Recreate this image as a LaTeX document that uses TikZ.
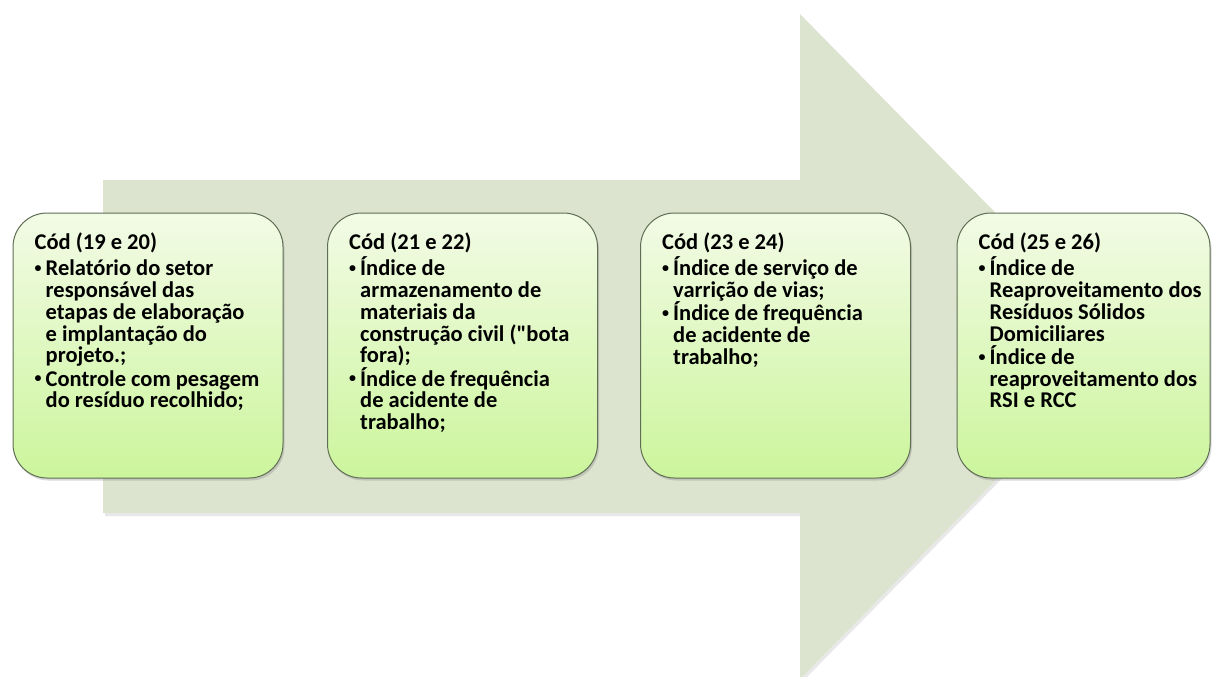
\documentclass[tikz,border=0pt]{standalone}
\usepackage{fontspec}
\setmainfont{Carlito}
\usetikzlibrary{shadows}

\definecolor{arrowfill}{HTML}{DCE4CF}
\definecolor{boxtop}{HTML}{F2FBE6}
\definecolor{boxbot}{HTML}{CCF59C}
\definecolor{boxline}{HTML}{5F6E55}

% bullet and continuation indent for the list lines
\newcommand{\bitem}{\makebox[11pt][l]{\raisebox{0.28ex}{\scalebox{0.62}{•}}}}
\newcommand{\bcont}{\hspace*{11pt}}
% keep an even line pitch regardless of accents and descenders
\newcommand{\evenlines}{\lineskiplimit=-100pt\lineskip=0pt}

\tikzset{
  stage/.style={draw=boxline, line width=1pt, rounded corners=34pt,
    top color=boxtop, bottom color=boxbot,
    minimum width=270pt, minimum height=265pt, inner sep=0pt,
    drop shadow={opacity=0.3, shadow xshift=1.5pt, shadow yshift=-2.5pt}},
  stagetext/.style={anchor=north west, inner sep=0pt, align=left,
    font=\fontsize{22.5}{21.8}\selectfont\bfseries\evenlines, text=black},
  bigarrow/.style={fill=arrowfill,
    drop shadow={opacity=0.18, shadow xshift=2pt, shadow yshift=-3pt}}
}

\begin{document}
\begin{tikzpicture}[x=1pt,y=1pt]
\useasboundingbox (0,0) rectangle (1216,-677);

% background arrow
\fill[bigarrow] (103,-180) -- (800,-180) -- (800,-14) -- (1127,-346.5)
  -- (800,-679) -- (800,-513) -- (103,-513) -- cycle;

% stage boxes
\node[stage] (b1) at (148,-345.5) {};
\node[stage] (b2) at (462.5,-345.5) {};
\node[stage] (b3) at (775.5,-345.5) {};
\node[stage, minimum width=253pt] (b4) at (1083.5,-345.5) {};

% stage texts
\node[stagetext] (t1) at ([shift={(22pt,-20pt)}]b1.north west) {%
Cód (19 e 20)\\[4.4pt]
\bitem Relatório do setor\\
\bcont responsável das\\
\bcont etapas de elaboração\\
\bcont e implantação do\\
\bcont projeto.;\\[1.4pt]
\bitem Controle com pesagem\\
\bcont do resíduo recolhido;};

\node[stagetext] (t2) at ([shift={(22pt,-20pt)}]b2.north west) {%
Cód (21 e 22)\\[4.4pt]
\bitem Índice de\\
\bcont armazenamento de\\
\bcont materiais da\\
\bcont construção civil (\textquotedbl bota\\
\bcont fora);\\[1.4pt]
\bitem Índice de frequência\\
\bcont de acidente de\\
\bcont trabalho;};

\node[stagetext] (t3) at ([shift={(22pt,-20pt)}]b3.north west) {%
Cód (23 e 24)\\[4.4pt]
\bitem Índice de serviço de\\
\bcont varrição de vias;\\[1.4pt]
\bitem Índice de frequência\\
\bcont de acidente de\\
\bcont trabalho;};

\node[stagetext] (t4) at ([shift={(22pt,-20pt)}]b4.north west) {%
Cód (25 e 26)\\[4.4pt]
\bitem Índice de\\
\bcont Reaproveitamento dos\\
\bcont Resíduos Sólidos\\
\bcont Domiciliares\\[1.4pt]
\bitem Índice de\\
\bcont reaproveitamento dos\\
\bcont RSI e RCC};
\end{tikzpicture}
\end{document}
